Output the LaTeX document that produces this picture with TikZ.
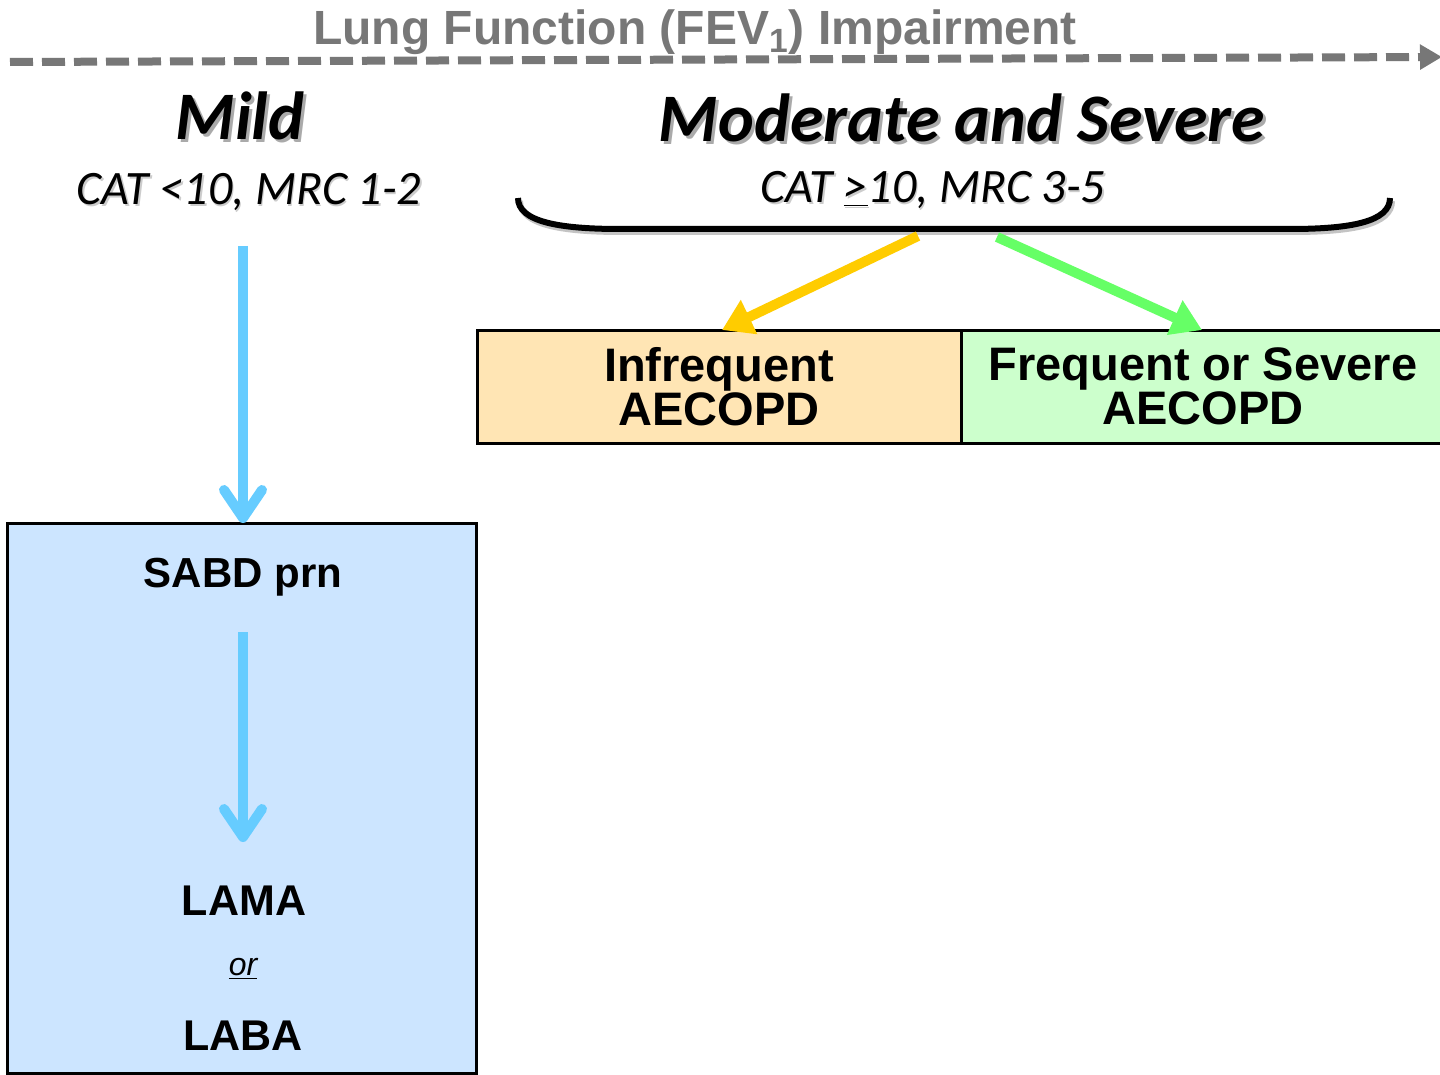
\documentclass[tikz,border=0pt]{standalone}
\usepackage{fontspec}
\setmainfont{Liberation Sans}
\newfontfamily\calibri{Carlito}
\usetikzlibrary{arrows.meta}
\definecolor{titlegray}{RGB}{119,119,119}
\definecolor{arrowblue}{RGB}{102,204,255}
\definecolor{boxblue}{RGB}{204,229,255}
\definecolor{boxorange}{RGB}{255,229,180}
\definecolor{boxgreen}{RGB}{204,255,204}
\definecolor{arrowyellow}{RGB}{255,204,0}
\definecolor{arrowgreen}{RGB}{102,255,102}
\definecolor{shadowgray}{RGB}{170,170,170}
\tikzset{
  heading/.style={anchor=base, inner sep=0pt, font=\calibri\fontsize{34}{40}\selectfont\bfseries\itshape},
  subhead/.style={anchor=base, inner sep=0pt, font=\calibri\fontsize{24}{28}\selectfont\itshape},
  boxtext/.style={anchor=base, inner sep=0pt, font=\fontsize{21}{24}\selectfont\bfseries},
  drugtext/.style={anchor=base, inner sep=0pt, font=\fontsize{21.5}{24}\selectfont\bfseries},
  exacbox/.style={draw=black, line width=1.5pt, inner sep=0pt, outer sep=0pt,
    minimum width=242pt, minimum height=56.5pt, align=center,
    font=\fontsize{23.5}{22}\selectfont\bfseries},
  bluearrow/.style={draw=arrowblue, line width=5pt,
    -{Straight Barb[length=14pt,width=19pt,round]}},
  fatarrow/.style={line width=5pt, -{Triangle[length=15pt,width=18pt]}},
  dashline/.style={draw=titlegray, line width=4pt, dash pattern=on 11.5pt off 4.5pt,
    -{Triangle[length=11pt,width=12pt]}},
}
\begin{document}
\begin{tikzpicture}[x=0.5pt,y=-0.5pt]
\useasboundingbox (0,0) rectangle (1440,1075);
\fill[white] (0,0) rectangle (1440,1075);

% top dashed axis
\node[anchor=base, inner sep=0pt, text=titlegray, font=\fontsize{24}{28}\selectfont\bfseries]
  (title) at (695,45) {Lung Function (FEV\textsubscript{1}) Impairment};
\coordinate (dl) at (10,62);
\coordinate (dr) at (1442,57);
\draw[dashline] (dl) -- (dr);

% headings with shadows
\node[heading, text=shadowgray] (mildsh) at (243,143) {Mild};
\node[heading] (mild) at (240,140) {Mild};
\node[heading, text=shadowgray] (modsh) at (965,145) {Moderate and Severe};
\node[heading] (mod) at (962,142) {Moderate and Severe};
\node[subhead, text=shadowgray!60] (catlsh) at (250.5,206.5) {CAT <10, MRC 1-2};
\node[subhead] (catl) at (249,205) {CAT <10, MRC 1-2};
\node[subhead, text=shadowgray!60] (cathsh) at (934.5,204.5) {CAT \underline{>}10, MRC 3-5};
\node[subhead] (cath) at (933,203) {CAT \underline{>}10, MRC 3-5};

% brace
\draw[shadowgray!70, line width=3pt] (520,201) .. controls (520,225) and (562,232) .. (622,232) -- (1292,232) .. controls (1352,232) and (1392,225) .. (1392,201);
\draw[black, line width=3pt] (518,198) .. controls (518,222) and (560,229) .. (620,229) -- (1290,229) .. controls (1350,229) and (1390,222) .. (1390,198);

% exacerbation boxes
\node[exacbox, fill=boxorange] (infreq) at (719,386.5) {Infrequent\\AECOPD};
\node[exacbox, fill=boxgreen] (freq) at (1203,386.5) {Frequent or Severe\\AECOPD};

% coloured arrows from brace
\coordinate (ys) at (918,236);
\coordinate (gs) at (997,237);
\draw[fatarrow, arrowyellow] (ys) -- ([xshift=1.5pt]infreq.north);
\draw[fatarrow, arrowgreen] (gs) -- ([xshift=-0.5pt]freq.north);

% mild box
\node[draw=black, fill=boxblue, line width=1.5pt, inner sep=0pt, outer sep=0pt,
  minimum width=234.5pt, minimum height=275pt] (mildbox) at (241.5,798) {};
\coordinate (m1s) at (243,246);
\draw[bluearrow] (m1s) -- (m1s |- mildbox.north);

\node[boxtext] (sabd) at (243,587) {SABD prn};
\coordinate (m2s) at (243,632);
\coordinate (m2e) at (243,842);
\draw[bluearrow] (m2s) -- (m2e);

\node[drugtext] (lama) at (244,915) {LAMA};
\node[anchor=base, inner sep=0pt, font=\fontsize{16}{20}\selectfont\itshape] (or) at (243,975) {\underline{or}};
\node[drugtext] (laba) at (243,1050) {LABA};
\end{tikzpicture}
\end{document}
